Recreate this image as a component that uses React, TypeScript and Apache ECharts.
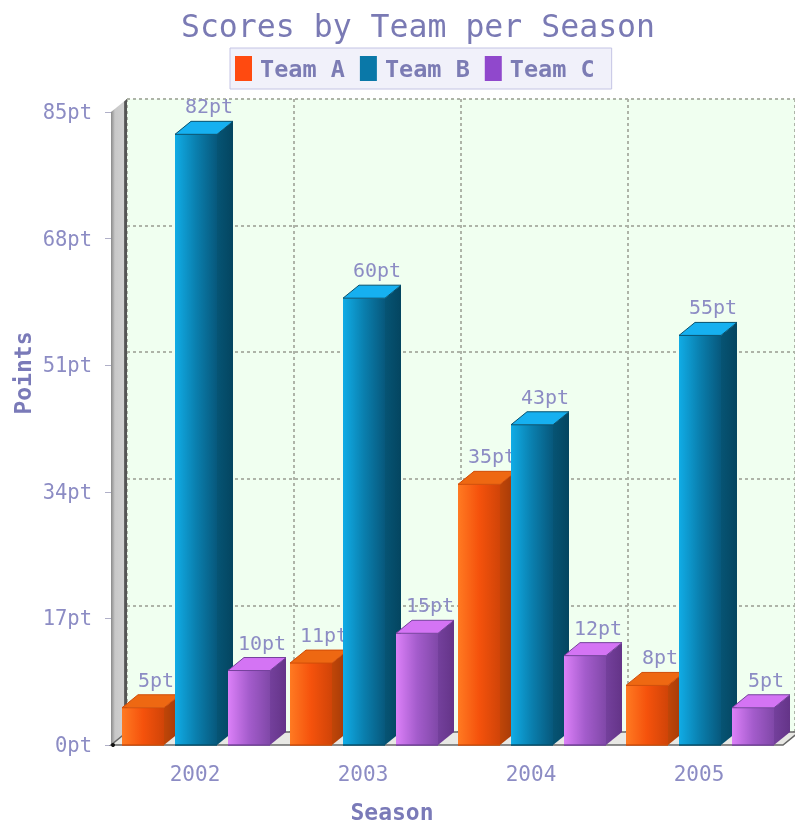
import React, { useEffect, useRef } from "react";
import * as echarts from "echarts";

const seasons = ["2002", "2003", "2004", "2005"];
const teamNames = ["Team A", "Team B", "Team C"];
const teamA = [5, 11, 35, 8];
const teamB = [82, 60, 43, 55];
const teamC = [10, 15, 12, 5];
const teamValues = [teamA, teamB, teamC];

const FONT = "DejaVu Sans Mono";
const TEXT = "#8c8cc4";
const DX = 16;
const DY = 13;

const palettes = [
  { legend: "#ff4a10", front: ["#ff7a22", "#f5520c", "#d04408"], side: ["#c04608", "#a03808"], top: "#ee6812", edge: "#d04c08" },
  { legend: "#0a78a8", front: ["#10ace6", "#0a7fae", "#07587c"], side: ["#065474", "#044560"], top: "#16b0f0", edge: "#05506e" },
  { legend: "#9048cc", front: ["#dc80f8", "#a45ccc", "#8048a8"], side: ["#74409c", "#643488"], top: "#d474f4", edge: "#74409c" },
];

const gridFront = { left: 111, top: 112, width: 672, height: 633 };
const gridBack = { left: 111 + DX, top: 112 - DY, width: 672, height: 633 };

function renderFrame(params: any) {
  const { x, y, width: w, height: h } = params.coordSys;
  const bottom = y + h;
  return {
    type: "group",
    children: [
      {
        type: "polygon",
        shape: { points: [[x, bottom], [x, y], [x + DX, y - DY], [x + DX, bottom - DY]] },
        style: {
          fill: new echarts.graphic.LinearGradient(0, 0, 1, 0, [
            { offset: 0, color: "#8a8a8a" },
            { offset: 0.25, color: "#c8c8c8" },
            { offset: 0.8, color: "#d0d0d0" },
            { offset: 0.85, color: "#555555" },
            { offset: 1, color: "#555555" },
          ]),
        },
      },
      {
        type: "polygon",
        shape: { points: [[x, bottom], [x + w, bottom], [x + w + DX, bottom - DY], [x + DX, bottom - DY]] },
        style: { fill: "#e8e8e4", stroke: "#666666", lineWidth: 1.5 },
      },
      { type: "circle", shape: { cx: x + 2, cy: bottom, r: 2 }, style: { fill: "#111111" } },
    ],
  };
}

function makeBarRenderer(teamIndex: number) {
  const p = palettes[teamIndex];
  return (_params: any, api: any) => {
    const band = api.size([1, 0])[0];
    const center = api.coord([api.value(0), 0]);
    const value = api.value(1);
    const topPt = api.coord([api.value(0), value]);
    const frontW = (band * 42) / 168;
    const left = center[0] + (band * (-73 + teamIndex * 53)) / 168;
    const right = left + frontW;
    const base = center[1];
    const top = topPt[1];
    return {
      type: "group",
      children: [
        {
          type: "polygon",
          shape: { points: [[left, base], [left, top], [right, top], [right, base]] },
          style: {
            fill: new echarts.graphic.LinearGradient(0, 0, 1, 0, [
              { offset: 0, color: p.front[0] },
              { offset: 0.5, color: p.front[1] },
              { offset: 1, color: p.front[2] },
            ]),
          },
        },
        {
          type: "polygon",
          shape: { points: [[right, base], [right, top], [right + DX, top - DY], [right + DX, base - DY]] },
          style: {
            fill: new echarts.graphic.LinearGradient(0, 0, 1, 0, [
              { offset: 0, color: p.side[0] },
              { offset: 1, color: p.side[1] },
            ]),
          },
        },
        {
          type: "polygon",
          shape: { points: [[left, top], [right, top], [right + DX, top - DY], [left + DX, top - DY]] },
          style: { fill: p.top, stroke: p.edge, lineWidth: 1 },
        },
        {
          type: "line",
          shape: { x1: left, y1: base, x2: right, y2: base },
          style: { stroke: p.edge, lineWidth: 1.5 },
        },
        {
          type: "text",
          style: {
            text: value + "pt",
            x: left + 34,
            y: top - DY - 15,
            align: "center",
            verticalAlign: "middle",
            font: `20px "${FONT}"`,
            fill: TEXT,
          },
        },
      ],
    };
  };
}

export default function App() {
  const ref = useRef<HTMLDivElement>(null);
  useEffect(() => {
    document.body.style.margin = "0";
    const chart = echarts.init(ref.current!, undefined, { renderer: "svg" });
    chart.setOption({
      animation: false,
      backgroundColor: "#ffffff",
      title: {
        text: "Scores by Team per Season",
        left: 413,
        top: 5,
        textAlign: "center",
        textStyle: { fontFamily: FONT, fontSize: 31.5, fontWeight: "normal", color: "#7a7ab4" },
      },
      legend: {
        left: 230,
        top: 48,
        orient: "horizontal",
        selectedMode: false,
        backgroundColor: "#f1f1fa",
        borderColor: "#c4c4e4",
        borderWidth: 1,
        padding: [8, 17, 8, 5],
        itemWidth: 17,
        itemHeight: 25,
        itemGap: 15,
        textStyle: { fontFamily: FONT, fontSize: 23.5, fontWeight: "bold", color: "#7c7cb4", padding: [0, 0, 0, 3] },
        data: teamNames.map((name, i) => ({ name, icon: "rect", itemStyle: { color: palettes[i].legend } })),
      },
      grid: [
        { ...gridFront },
        { ...gridBack, show: true, backgroundColor: "#f0fff0", borderWidth: 0 },
      ],
      xAxis: [
        {
          type: "category",
          gridIndex: 0,
          data: seasons,
          axisLine: { show: false },
          axisTick: { show: false },
          splitLine: { show: false },
          axisLabel: { fontFamily: FONT, fontSize: 21, color: TEXT, margin: 18 },
        },
        {
          type: "category",
          gridIndex: 1,
          data: seasons,
          axisLine: { show: false },
          axisTick: { show: false },
          axisLabel: { show: false },
          splitLine: { show: true, interval: 0, lineStyle: { color: "#aeb4a8", type: [3, 3], width: 2 } },
        },
      ],
      yAxis: [
        {
          type: "value",
          gridIndex: 0,
          min: 0,
          max: 85,
          interval: 17,
          axisLine: { show: false },
          axisTick: { show: true, length: 6, lineStyle: { color: "#b0b0c8" } },
          splitLine: { show: false },
          axisLabel: { fontFamily: FONT, fontSize: 20.5, color: TEXT, margin: 19, formatter: "{value}pt" },
        },
        {
          type: "value",
          gridIndex: 1,
          min: 0,
          max: 85,
          interval: 17,
          axisLine: { show: false },
          axisTick: { show: false },
          axisLabel: { show: false },
          splitLine: { show: true, lineStyle: { color: "#aeb4a8", type: [3, 3], width: 2 } },
        },
      ],
      graphic: [
        {
          type: "text",
          x: 392,
          y: 812,
          style: {
            text: "Season",
            align: "center",
            verticalAlign: "middle",
            font: `bold 23px "${FONT}"`,
            fill: "#7a7ab8",
          },
        },
        {
          type: "text",
          x: 23,
          y: 373,
          rotation: Math.PI / 2,
          style: {
            text: "Points",
            align: "center",
            verticalAlign: "middle",
            font: `bold 23px "${FONT}"`,
            fill: "#7a7ab8",
          },
        },
      ],
      series: [
        {
          type: "custom",
          name: "frame",
          coordinateSystem: "cartesian2d",
          xAxisIndex: 0,
          yAxisIndex: 0,
          silent: true,
          data: [[0, 0]],
          renderItem: renderFrame,
          z: 1,
        },
        ...teamNames.map((name, i) => ({
          type: "custom",
          name,
          coordinateSystem: "cartesian2d",
          xAxisIndex: 0,
          yAxisIndex: 0,
          silent: true,
          itemStyle: { color: palettes[i].legend },
          encode: { x: 0, y: 1 },
          data: teamValues[i].map((v, k) => [k, v]),
          renderItem: makeBarRenderer(i),
          z: 2 + i,
        })),
      ],
    });
    return () => chart.dispose();
  }, []);
  return <div ref={ref} style={{ width: 795, height: 825, overflow: "hidden", filter: "blur(0.5px)" }} />;
}
